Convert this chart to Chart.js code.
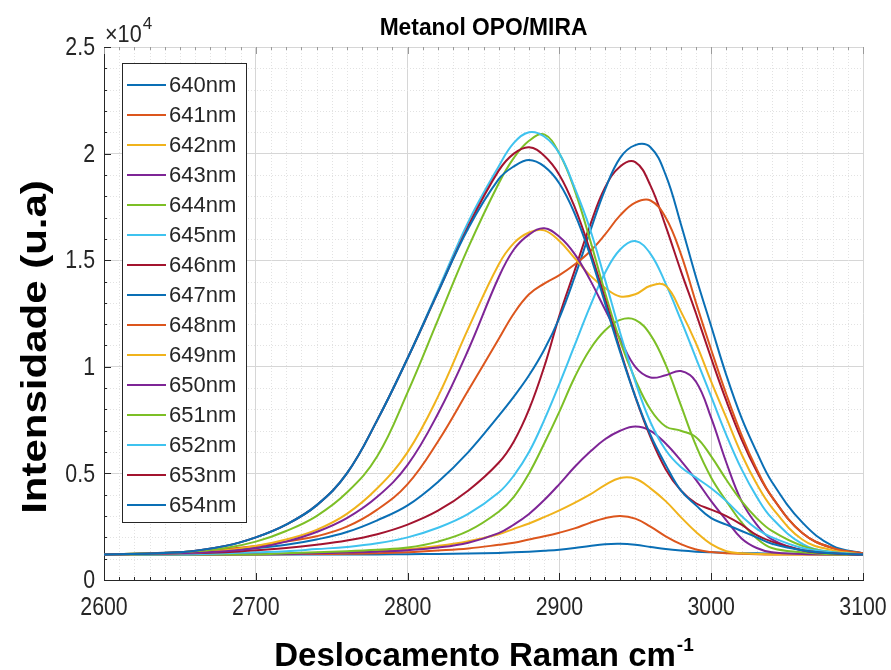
<!DOCTYPE html>
<html>
<head>
<meta charset="utf-8">
<script src="https://cdn.jsdelivr.net/npm/chart.js@4.4.1/dist/chart.umd.min.js"></script>
<style>
  html, body { margin: 0; padding: 0; background: #fff; }
  #wrap { width: 891px; height: 670px; }
</style>
</head>
<body>
<div id="wrap"><canvas id="ramanChart" width="891" height="670"></canvas></div>
<script>
// Raman shift (cm-1) shared by every spectrum
const shift = [2600, 2650, 2680, 2700, 2720, 2740, 2760, 2780, 2800, 2820, 2840, 2860, 2870, 2880, 2890, 2900,
  2910, 2920, 2930, 2940, 2950, 2960, 2970, 2980, 2990, 3000, 3010, 3020, 3030, 3040, 3060, 3080, 3100];

const seriesLabels = ['640nm', '641nm', '642nm', '643nm', '644nm', '645nm', '646nm', '647nm',
  '648nm', '649nm', '650nm', '651nm', '652nm', '653nm', '654nm'];

// tick values and their labels (y labels are in units of 10^4)
const xTickValues = [2600, 2700, 2800, 2900, 3000, 3100];
const xTickLabels = ['2600', '2700', '2800', '2900', '3000', '3100'];
const yTickValues = [0, 5000, 10000, 15000, 20000, 25000];
const yTickLabels = ['0', '0.5', '1', '1.5', '2', '2.5'];

// intensities (u.a)
const i640 = [1200, 1200, 1200, 1200, 1200, 1200, 1200, 1200, 1210, 1220, 1240, 1270, 1300, 1330, 1370, 1420,
  1500, 1600, 1680, 1700, 1650, 1550, 1450, 1380, 1330, 1300, 1280, 1260, 1250, 1240, 1230, 1220, 1200];
const i641 = [1200, 1200, 1200, 1200, 1210, 1220, 1230, 1250, 1300, 1380, 1480, 1650, 1750, 1900, 2050, 2220,
  2420, 2680, 2900, 3000, 2880, 2500, 2050, 1680, 1430, 1310, 1260, 1230, 1210, 1200, 1200, 1200, 1200];
const i642 = [1200, 1200, 1210, 1220, 1240, 1270, 1300, 1350, 1450, 1600, 1820, 2150, 2400, 2650, 2950, 3270,
  3620, 4000, 4450, 4780, 4750, 4300, 3700, 2950, 2250, 1680, 1350, 1250, 1220, 1200, 1200, 1200, 1200];
const i643 = [1200, 1200, 1200, 1210, 1220, 1250, 1290, 1330, 1400, 1520, 1750, 2200, 2600, 3100, 3750, 4500,
  5300, 6000, 6600, 7000, 7200, 7000, 6400, 5600, 4700, 3700, 2800, 1950, 1500, 1300, 1220, 1200, 1200];
const i644 = [1200, 1200, 1200, 1200, 1250, 1300, 1350, 1420, 1520, 1800, 2300, 3200, 3900, 5000, 6400, 7900,
  9500, 10800, 11700, 12200, 12200, 11500, 10100, 8200, 6300, 4800, 3700, 2700, 1950, 1500, 1300, 1200, 1200];
const i645 = [1200, 1200, 1250, 1300, 1350, 1450, 1550, 1720, 2000, 2450, 3100, 4100, 4900, 6000, 7500, 9200,
  11000, 12800, 14400, 15500, 15900, 15300, 13900, 12200, 10400, 8600, 6800, 5200, 3900, 2900, 1700, 1300, 1200];
const i646 = [1200, 1250, 1300, 1400, 1500, 1650, 1850, 2150, 2600, 3250, 4200, 5500, 6500, 8000, 10000, 12400,
  14500, 16600, 18400, 19400, 19600, 18500, 16600, 14500, 12500, 10400, 8400, 6600, 5100, 3900, 2200, 1500, 1250];
const i647 = [1200, 1300, 1400, 1500, 1650, 1900, 2250, 2800, 3500, 4600, 6000, 7700, 8600, 9600, 10800, 12300,
  14200, 16300, 18300, 19800, 20400, 20300, 19000, 16700, 14200, 11900, 9600, 7600, 6000, 4600, 2700, 1600, 1250];
const i648 = [1200, 1300, 1450, 1600, 1800, 2050, 2500, 3300, 4500, 6500, 8900, 11300, 12500, 13400, 13900, 14300,
  14800, 15400, 16200, 17100, 17700, 17800, 17000, 15300, 13000, 10800, 8700, 6800, 5200, 3900, 2200, 1500, 1250];
const i649 = [1200, 1250, 1400, 1600, 1900, 2350, 3100, 4300, 6000, 8600, 11800, 14800, 15800, 16300, 16400, 15900,
  15100, 14300, 13700, 13300, 13400, 13800, 13800, 12600, 11100, 9300, 7600, 5900, 4500, 3400, 1900, 1400, 1200];
const i650 = [1200, 1250, 1350, 1500, 1800, 2250, 2900, 3900, 5400, 7800, 10800, 14200, 15500, 16200, 16500, 16100,
  15300, 14100, 12700, 11300, 10000, 9500, 9600, 9800, 9300, 7600, 5500, 3700, 2600, 1900, 1400, 1250, 1200];
const i651 = [1200, 1300, 1500, 1800, 2300, 3000, 4100, 5800, 8800, 12200, 15600, 18600, 19800, 20600, 20900, 20000,
  18300, 16000, 13500, 11200, 9400, 8000, 7200, 7000, 6700, 5800, 4700, 3700, 2900, 2300, 1600, 1300, 1200];
const i652 = [1200, 1300, 1600, 2000, 2600, 3500, 5000, 7500, 10400, 13600, 16800, 19400, 20500, 21000, 20800, 20000,
  18400, 16500, 14100, 11600, 9300, 7400, 6100, 5300, 4800, 4300, 3700, 3000, 2400, 2000, 1500, 1300, 1200];
const i653 = [1200, 1300, 1600, 2000, 2600, 3500, 5000, 7500, 10400, 13500, 16600, 19200, 20000, 20300, 19900, 19000,
  17500, 15500, 13200, 10800, 8600, 6700, 5200, 4200, 3600, 3300, 3000, 2600, 2100, 1800, 1400, 1250, 1200];
const i654 = [1200, 1300, 1600, 2000, 2600, 3500, 5000, 7500, 10400, 13500, 16500, 18800, 19400, 19700, 19400, 18600,
  17200, 15300, 13000, 10700, 8600, 6800, 5400, 4200, 3500, 2900, 2600, 2300, 2000, 1700, 1400, 1250, 1200];

const allSeries = [i640, i641, i642, i643, i644, i645, i646, i647, i648, i649, i650, i651, i652, i653, i654];

// MATLAB-like colour order
const palette = ['#0a6fb5', '#dc561d', '#f0b31c', '#7e2596', '#7cbf26', '#3fc3ef', '#a3142f'];

const FONT = "'Liberation Sans', Arial, Helvetica, sans-serif";
const INK = '#262626';

const datasets = allSeries.map((vals, i) => ({
  label: seriesLabels[i],
  data: shift.map((x, k) => ({ x, y: vals[k] })),
  borderColor: palette[i % palette.length],
  backgroundColor: palette[i % palette.length],
  borderWidth: 2,
  pointRadius: 0,
  tension: 0.4,
  fill: false,
  order: allSeries.length - i // later spectra on top
}));

// text narrowed horizontally, the source figure uses a tall narrow face
function narrowText(ctx, txt, x, y, align, sx) {
  ctx.save();
  ctx.translate(x, y);
  ctx.scale(sx, 1);
  ctx.textAlign = align;
  ctx.fillText(txt, 0, 0);
  ctx.restore();
}

const decor = {
  id: 'decor',
  beforeDatasetsDraw(chart) {
    const { ctx, chartArea: a, scales: { x, y } } = chart;
    ctx.save();
    // dotted minor grid
    ctx.strokeStyle = '#e2e2e2';
    ctx.lineWidth = 1;
    ctx.setLineDash([1, 2]);
    for (let v = 2610; v < 3100; v += 10) {
      if (v % 100 === 0) continue;
      const px = Math.round(x.getPixelForValue(v)) + 0.5;
      ctx.beginPath(); ctx.moveTo(px, a.top); ctx.lineTo(px, a.bottom); ctx.stroke();
    }
    for (let v = 1000; v < 25000; v += 1000) {
      if (v % 5000 === 0) continue;
      const py = Math.round(y.getPixelForValue(v)) + 0.5;
      ctx.beginPath(); ctx.moveTo(a.left, py); ctx.lineTo(a.right, py); ctx.stroke();
    }
    ctx.setLineDash([]);
    // inward tick marks
    for (let v = 2600; v <= 3100; v += 10) {
      const len = v % 100 === 0 ? 7 : 3;
      const px = Math.round(x.getPixelForValue(v)) + 0.5;
      ctx.strokeStyle = INK;
      ctx.beginPath(); ctx.moveTo(px, a.bottom); ctx.lineTo(px, a.bottom - len); ctx.stroke();
      ctx.strokeStyle = '#9a9a9a';
      ctx.beginPath(); ctx.moveTo(px, a.top); ctx.lineTo(px, a.top + len); ctx.stroke();
    }
    ctx.strokeStyle = INK;
    for (let v = 0; v <= 25000; v += 1000) {
      const len = v % 5000 === 0 ? 7 : 3;
      const py = Math.round(y.getPixelForValue(v)) + 0.5;
      ctx.beginPath(); ctx.moveTo(a.left, py); ctx.lineTo(a.left + len, py); ctx.stroke();
    }
    ctx.restore();
  },
  afterDraw(chart) {
    const { ctx, chartArea: a, scales: { x, y } } = chart;
    ctx.save();

    // tick labels
    ctx.fillStyle = INK;
    ctx.font = `26px ${FONT}`;
    ctx.textBaseline = 'middle';
    xTickValues.forEach((v, i) => {
      narrowText(ctx, xTickLabels[i], x.getPixelForValue(v), 608, 'center', 0.82);
    });
    yTickValues.forEach((v, i) => {
      narrowText(ctx, yTickLabels[i], 95, y.getPixelForValue(v) + 1, 'right', 0.82);
    });

    // exponent label
    ctx.textBaseline = 'alphabetic';
    ctx.textAlign = 'left';
    ctx.font = `24px ${FONT}`;
    narrowText(ctx, '\u00d710', 105, 42, 'left', 0.9);
    const w = ctx.measureText('\u00d710').width * 0.9;
    ctx.font = `17px ${FONT}`;
    ctx.fillText('4', 105 + w + 1, 29);

    // title
    ctx.fillStyle = '#000';
    ctx.font = `bold 24px ${FONT}`;
    narrowText(ctx, 'Metanol OPO/MIRA', (a.left + a.right) / 2, 35, 'center', 0.95);

    // x axis title with superscript
    const xt = 'Deslocamento Raman cm';
    ctx.font = `bold 33px ${FONT}`;
    const w1 = ctx.measureText(xt).width;
    ctx.font = `bold 19px ${FONT}`;
    const w2 = ctx.measureText('-1').width;
    const x0 = (a.left + a.right) / 2 - (w1 + w2) / 2;
    ctx.textAlign = 'left';
    ctx.font = `bold 33px ${FONT}`;
    ctx.fillText(xt, x0, 666);
    ctx.font = `bold 19px ${FONT}`;
    ctx.fillText('-1', x0 + w1 + 1, 651);

    // y axis title, a little stretched along its length like the source
    ctx.save();
    ctx.translate(46, 347);
    ctx.rotate(-Math.PI / 2);
    ctx.scale(1.2, 1);
    ctx.textAlign = 'center';
    ctx.font = `bold 35px ${FONT}`;
    ctx.fillText('Intensidade (u.a)', 0, 0);
    ctx.restore();

    // legend box
    const lx = 122, ly = 63, lw = 124, lh = 459;
    ctx.fillStyle = '#fff';
    ctx.fillRect(lx, ly, lw, lh);
    ctx.strokeStyle = INK;
    ctx.lineWidth = 1;
    ctx.strokeRect(lx + 0.5, ly + 0.5, lw, lh);
    ctx.font = `22px ${FONT}`;
    ctx.textBaseline = 'middle';
    ctx.textAlign = 'left';
    chart.data.datasets.forEach((ds, i) => {
      const cy = 85 + i * 30;
      ctx.strokeStyle = ds.borderColor;
      ctx.lineWidth = 2;
      ctx.beginPath(); ctx.moveTo(127, cy); ctx.lineTo(166, cy); ctx.stroke();
      ctx.fillStyle = INK;
      ctx.fillText(ds.label, 169, cy + 1);
    });
    ctx.restore();
  }
};

new Chart(document.getElementById('ramanChart'), {
  type: 'line',
  data: { datasets },
  options: {
    responsive: false,
    animation: false,
    devicePixelRatio: 1,
    layout: { padding: { top: 47, right: 28, left: 0, bottom: 0 } },
    plugins: {
      legend: { display: false },
      tooltip: { enabled: false },
      title: { display: false }
    },
    scales: {
      x: {
        type: 'linear',
        min: 2600,
        max: 3100,
        ticks: { stepSize: 100, display: false },
        grid: { color: '#d6d6d6', drawTicks: false },
        border: { color: INK, width: 1 },
        afterFit: (s) => { s.height = 90; }
      },
      y: {
        min: 0,
        max: 25000,
        ticks: { stepSize: 5000, display: false },
        grid: { color: '#d6d6d6', drawTicks: false },
        border: { color: INK, width: 1 },
        afterFit: (s) => { s.width = 104; }
      }
    }
  },
  plugins: [decor]
});
</script>
</body>
</html>
